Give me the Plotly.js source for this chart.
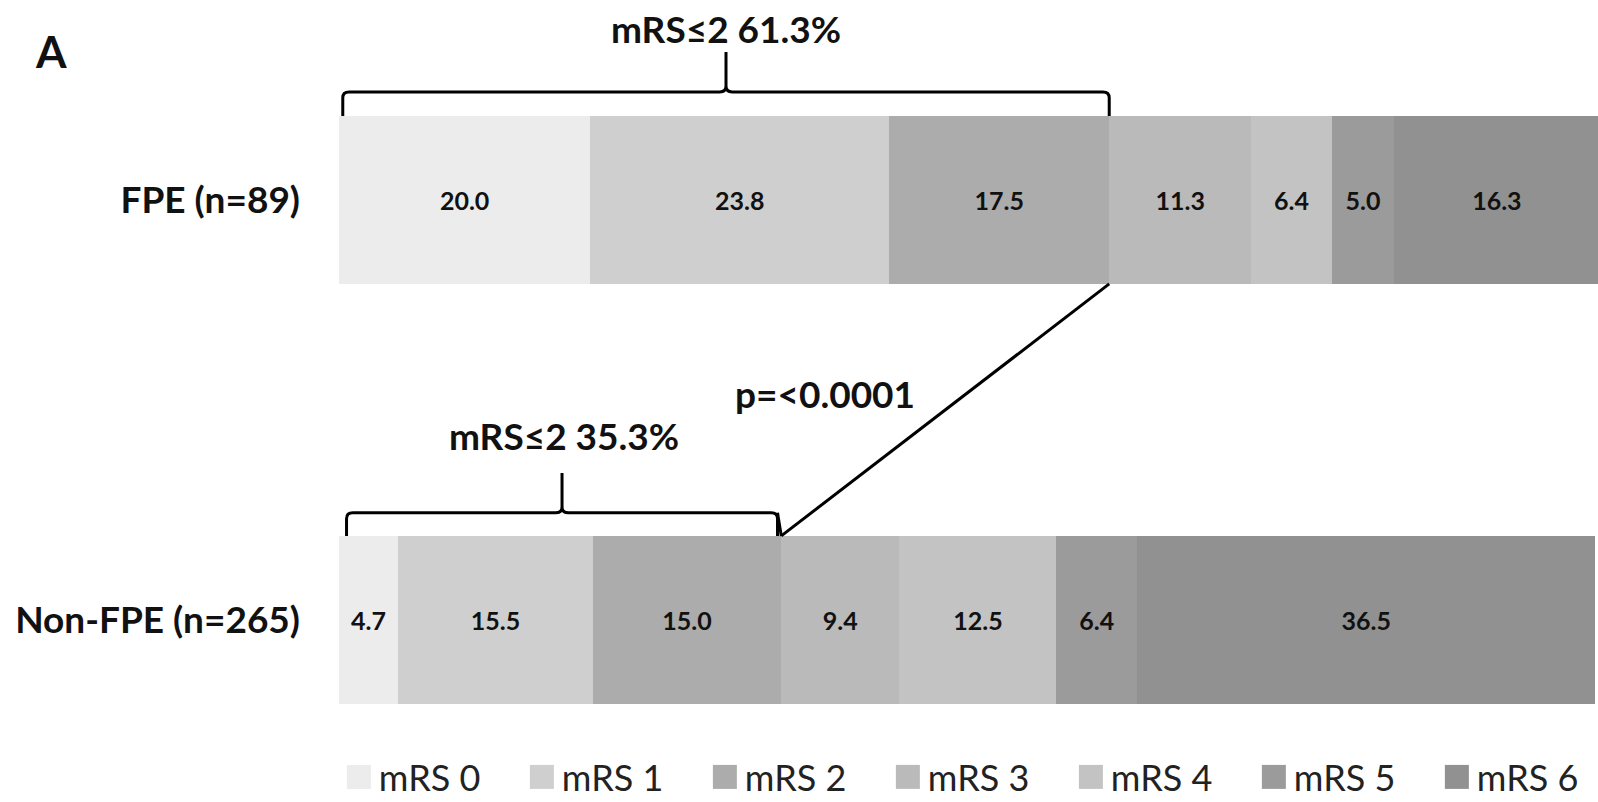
<!DOCTYPE html>
<html>
<head>
<meta charset="utf-8">
<script src="https://cdn.plot.ly/plotly-3.0.1.min.js"></script>
<style>
  html, body { margin: 0; padding: 0; background: #ffffff; }
  #chart { width: 1598px; height: 802px; }
</style>
</head>
<body>
<div id="chart"></div>
<script>
// ---- data ----
const groups = ['FPE (n=89)', 'Non-FPE (n=265)'];
const categoryOrder = ['Non-FPE (n=265)', 'FPE (n=89)'];
const mrsLabels = ['mRS 0', 'mRS 1', 'mRS 2', 'mRS 3', 'mRS 4', 'mRS 5', 'mRS 6'];
const fpeValues = [20.0, 23.8, 17.5, 11.3, 6.4, 5.0, 16.3];
const nonFpeValues = [4.7, 15.5, 15.0, 9.4, 12.5, 6.4, 36.5];
const colors = ['#ececec', '#cfcfcf', '#acacac', '#bababa', '#c3c3c3', '#9b9b9b', '#919191'];
const goodFpe = 'mRS≤2 61.3%';
const goodNonFpe = 'mRS≤2 35.3%';
const pText = 'p=<0.0001';

// cumulative mRS<=2 boundaries
const cutFpe = fpeValues[0] + fpeValues[1] + fpeValues[2];
const cutNon = nonFpeValues[0] + nonFpeValues[1] + nonFpeValues[2];

const traces = mrsLabels.map((name, i) => ({
  type: 'bar',
  orientation: 'h',
  name: name,
  y: groups,
  x: [fpeValues[i], nonFpeValues[i]],
  width: 0.4,
  marker: { color: colors[i], line: { width: 0 } },
  texttemplate: '%{x:.1f}',
  textposition: 'inside',
  insidetextanchor: 'middle',
  textangle: 0,
  constraintext: 'none',
  textfont: { family: 'Lato, "Liberation Sans", sans-serif', size: 25, color: '#111111', weight: 700 },
  hoverinfo: 'skip'
}));

// bracket geometry (data units)
const barHalf = 0.2;
const yTopBar = 1 + barHalf, yBotFpe = 1 - barHalf, yTopNon = 0 + barHalf;
function bracePath(x0, x1, yBase, yLine, yPeak) {
  const xm = (x0 + x1) / 2;
  const rx = 0.5, ry = 0.014;
  return `M ${x0},${yBase} L ${x0},${yLine - ry} Q ${x0},${yLine} ${x0 + rx},${yLine} ` +
         `L ${xm - rx},${yLine} Q ${xm},${yLine} ${xm},${yLine + ry} L ${xm},${yPeak} ` +
         `M ${xm},${yLine + ry} Q ${xm},${yLine} ${xm + rx},${yLine} ` +
         `L ${x1 - rx},${yLine} Q ${x1},${yLine} ${x1},${yLine - ry} L ${x1},${yBase}`;
}

const lineStyle = { color: '#000000', width: 3 };
const boldFont = { family: 'Lato, "Liberation Sans", sans-serif', size: 37, color: '#111111', weight: 700 };

const layout = {
  width: 1598,
  height: 802,
  margin: { l: 339, r: 0, t: 0, b: 62, autoexpand: false },
  paper_bgcolor: '#ffffff',
  plot_bgcolor: '#ffffff',
  barmode: 'stack',
  showlegend: true,
  uniformtext: { mode: 'show', minsize: 25 },
  xaxis: { range: [0, 100.2], visible: false, fixedrange: true },
  yaxis: {
    type: 'category',
    categoryorder: 'array',
    categoryarray: categoryOrder,
    range: [-0.286, 1.476],
    showgrid: false, zeroline: false, showline: false,
    ticks: '',
    ticklabelstandoff: 38,
    tickfont: boldFont,
    fixedrange: true
  },
  legend: {
    orientation: 'h',
    x: -0.0001, xanchor: 'left',
    y: -0.05, yanchor: 'middle',
    traceorder: 'normal',
    font: { family: 'Lato, "Liberation Sans", sans-serif', size: 36, color: '#222222' },
    entrywidth: 138,
    entrywidthmode: 'pixels',
    itemclick: false, itemdoubleclick: false
  },
  shapes: [
    { type: 'path', xref: 'x', yref: 'y', path: bracePath(0.3, cutFpe, yTopBar, 1.257, 1.352), line: lineStyle },
    { type: 'path', xref: 'x', yref: 'y', path: bracePath(0.6, cutNon - 0.3, yTopNon, 0.255, 0.350), line: lineStyle },
    { type: 'line', xref: 'x', yref: 'y', x0: cutNon - 0.3, y0: 0.255, x1: cutNon, y1: yTopNon, line: lineStyle },
    { type: 'line', xref: 'x', yref: 'y', x0: cutNon, y0: yTopNon, x1: cutFpe, y1: yBotFpe, line: lineStyle }
  ],
  annotations: [
    { xref: 'x', yref: 'y', x: (0.3 + cutFpe) / 2, y: 1.409, text: goodFpe, showarrow: false, font: boldFont,
      xanchor: 'center', yanchor: 'middle' },
    { xref: 'x', yref: 'y', x: (0.6 + cutNon) / 2, y: 0.44, text: goodNonFpe, showarrow: false, font: boldFont,
      xanchor: 'center', yanchor: 'middle' },
    { xref: 'x', yref: 'y', x: 38.7, y: 0.54, text: pText, showarrow: false, font: boldFont,
      xanchor: 'center', yanchor: 'middle' },
    { xref: 'paper', yref: 'paper', x: -0.229, y: 0.931, text: 'A', showarrow: false,
      xanchor: 'center', yanchor: 'middle',
      font: { family: 'Lato, "Liberation Sans", sans-serif', size: 44, color: '#111111', weight: 700 } }
  ]
};

Plotly.newPlot('chart', traces, layout, { displayModeBar: false, staticPlot: true }).then(() => {
  document.querySelectorAll('#chart .legend .legendpoints path').forEach(p => {
    const t = p.getAttribute('transform') || '';
    if (!/scale/.test(t)) p.setAttribute('transform', (t ? t + ' ' : '') + 'scale(2)');
  });
});
</script>
</body>
</html>
